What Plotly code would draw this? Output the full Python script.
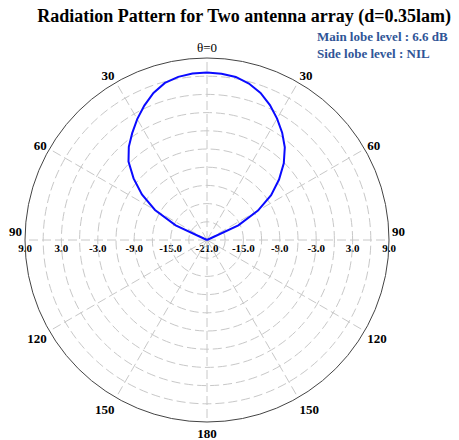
import plotly.graph_objects as go

# Radiation pattern of the two-element array (gain in dB versus angle)
theta_deg = [-70, -65, -60, -55, -50, -45, -40, -35, -30, -25, -20, -15, -10, -5,
             0, 5, 10, 15, 20, 25, 30, 35, 40, 45, 50, 55, 60, 65, 70]
gain_db = [-21.0, -15.3, -11.1, -7.9, -5.2, -2.7, -0.95, 0.5, 2.0, 3.45, 4.8, 5.8, 6.3, 6.55,
           6.6, 6.5, 6.3, 5.7, 4.8, 3.55, 2.1, 0.6, -1.05, -3.1, -5.5, -8.1, -11.3, -15.3, -21.0]

# Radial scale (dB): grid every 3 dB, labels every 6 dB on both sides of the centre
r_min, r_max = -21, 9
grid_db = [-21, -18, -15, -12, -9, -6, -3, 0, 3, 6, 9]
label_db = [-21, -15, -9, -3, 3, 9]

angle_ticks = [0, 30, 60, 90, 120, 150, 180, 210, 240, 270, 300, 330]
angle_labels = ["θ=0", "<b>30</b>", "<b>60</b>", "<b>90</b><br>\u00a0", "<b>120</b>", "<b>150</b>",
                "<b>180</b>", "<b>150</b>", "<b>120</b>", "<b>90</b><br>\u00a0", "<b>60</b>", "<b>30</b>"]

main_lobe_text = "Main lobe level : 6.6 dB"
side_lobe_text = "Side lobe level : NIL"
title_text = "Radiation Pattern for Two antenna array (d=0.35lam)"

SERIF = "Liberation Serif, Times New Roman, serif"
GRID = "#c8c8c8"
DASH = "9px,4px"
CLEAR = "rgba(0,0,0,0)"

# horizontal diameter axis: signed distance from the centre, in dB above r_min
span = r_max - r_min
diam_vals = [-(v - r_min) for v in reversed(label_db)] + [v - r_min for v in label_db[1:]]
diam_text = [f"{v:.1f}" for v in reversed(label_db)] + [f"{v:.1f}" for v in label_db[1:]]

fig = go.Figure()
fig.add_trace(go.Scatterpolar(
    r=gain_db + [gain_db[0]], theta=theta_deg + [theta_deg[0]],
    mode="lines", line=dict(color="#0a0aff", width=2),
    subplot="polar", showlegend=False, hoverinfo="skip",
))
# hidden point that keeps the diameter scale axis rendered
fig.add_trace(go.Scatter(x=[0], y=[0], mode="markers", marker=dict(opacity=0),
                         showlegend=False, hoverinfo="skip"))

fig.update_layout(
    width=459, height=440,
    paper_bgcolor="white",
    plot_bgcolor=CLEAR,
    margin=dict(l=25, r=70, t=58, b=18),
    title=dict(text=title_text, x=0.532, xref="container", xanchor="center",
               y=1 - 16 / 440, yref="container", yanchor="middle",
               font=dict(family=SERIF, size=18, color="black", weight="bold")),
    polar=dict(
        domain=dict(x=[0, 1], y=[0, 1]),
        bgcolor=CLEAR,
        radialaxis=dict(range=[r_min, r_max], tickmode="array", tickvals=grid_db,
                        showticklabels=False, ticks="", showline=False, angle=0,
                        showgrid=True, gridcolor=GRID, gridwidth=1, griddash=DASH),
        angularaxis=dict(rotation=90, direction="clockwise", tickmode="array",
                         tickvals=angle_ticks, ticktext=angle_labels, ticks="",
                         showline=True, linecolor="#444444", linewidth=1,
                         showgrid=True, gridcolor=GRID, gridwidth=1, griddash=DASH,
                         tickfont=dict(family=SERIF, size=13, color="black")),
    ),
    xaxis=dict(range=[-span, span], domain=[0, 1], anchor="y", tickmode="array",
               tickvals=diam_vals, ticktext=diam_text, ticks="",
               showgrid=False, zeroline=False, showline=False, fixedrange=True,
               tickfont=dict(family=SERIF, size=11, color="black", weight="bold")),
    yaxis=dict(domain=[0.5, 1], range=[0, 1], visible=False, fixedrange=True),
    annotations=[
        dict(text=main_lobe_text, xref="paper", yref="paper", x=(315 - 25) / 364,
             y=(422 - 37) / 364, xanchor="left", yanchor="middle", showarrow=False,
             font=dict(family=SERIF, size=13, color="#2f5597", weight="bold")),
        dict(text=side_lobe_text, xref="paper", yref="paper", x=(315 - 25) / 364,
             y=(422 - 53) / 364, xanchor="left", yanchor="middle", showarrow=False,
             font=dict(family=SERIF, size=13, color="#2f5597", weight="bold")),
    ],
)

fig.write_html("out.html")
